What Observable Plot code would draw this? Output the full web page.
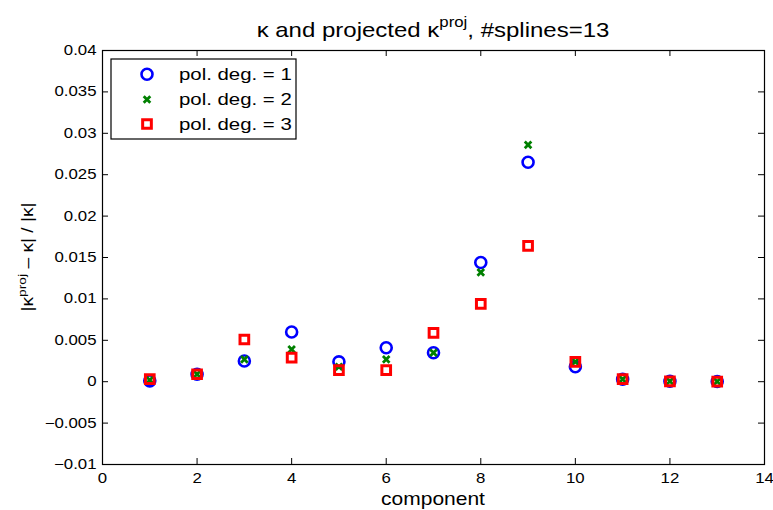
<!DOCTYPE html>
<html><head><meta charset="utf-8">
<script src="https://cdn.jsdelivr.net/npm/d3@7"></script>
<script src="https://cdn.jsdelivr.net/npm/@observablehq/plot@0.6"></script>
<style>html,body{margin:0;padding:0;background:#fff;}</style>
</head><body><div id="chart"></div>
<script>
const components = [1, 2, 3, 4, 5, 6, 7, 8, 9, 10, 11, 12, 13];
const deg1 = [0.0001, 0.0009, 0.0025, 0.0060, 0.0024, 0.0041, 0.0035, 0.0144, 0.0265, 0.0018, 0.0003, 0.00005, 0.00002];
const deg2 = [0.0002, 0.0009, 0.0027, 0.0039, 0.0018, 0.0027, 0.0035, 0.0132, 0.0286, 0.0024, 0.0003, 0.00005, 0.00002];
const deg3 = [0.0003, 0.0009, 0.0051, 0.0029, 0.0014, 0.0014, 0.0059, 0.0094, 0.0164, 0.0024, 0.0003, 0.00005, 0.00002];
const seriesNames = ["pol. deg. = 1", "pol. deg. = 2", "pol. deg. = 3"];
const xTicks = [0, 2, 4, 6, 8, 10, 12, 14];
const yTicks = [-0.01, -0.005, 0, 0.005, 0.01, 0.015, 0.02, 0.025, 0.03, 0.035, 0.04];
const yTickLabels = ["\u22120.01", "\u22120.005", "0", "0.005", "0.01", "0.015", "0.02", "0.025", "0.03", "0.035", "0.04"];
const xDomain = [0, 14];
const yDomain = [-0.01, 0.04];
const titleMain = "\u03BA and projected \u03BA";
const titleSup = "proj";
const titleRest = ", #splines=13";
const xLabel = "component";

const W = 773, H = 510, mt = 50, mr = 9, mb = 46, ml = 102;
const pw = W - ml - mr, ph = H - mt - mb;
const FONT = "'Liberation Sans', Arial, Helvetica, sans-serif";
const S = 1.2;
const tickLen = 6;

const styles = [
  {symbol: "circle", stroke: "#0000ff", r: 5.5, strokeWidth: 2.6},
  {symbol: "times", stroke: "#008000", r: 3.1, strokeWidth: 2.8},
  {symbol: "square", stroke: "#ff0000", r: 4.9, strokeWidth: 3}
];
const series = [deg1, deg2, deg3];
const rows = arr => components.map((c, i) => ({c, v: arr[i]}));

const plot = Plot.plot({
  width: W, height: H,
  marginTop: mt, marginRight: mr, marginBottom: mb, marginLeft: ml,
  style: {fontFamily: FONT, fontSize: "14px", color: "black", background: "white"},
  x: {domain: xDomain},
  y: {domain: yDomain},
  marks: [
    Plot.ruleX(xTicks, {x: d => d, insetTop: ph - tickLen, stroke: "black"}),
    Plot.ruleX(xTicks, {x: d => d, insetBottom: ph - tickLen, stroke: "black"}),
    Plot.ruleY(yTicks, {y: d => d, insetRight: pw - tickLen, stroke: "black"}),
    Plot.ruleY(yTicks, {y: d => d, insetLeft: pw - tickLen, stroke: "black"}),
    Plot.frame({stroke: "black", strokeWidth: 1.2}),
    Plot.axisX(xTicks, {tickSize: 0, tickPadding: 9, label: null, tickFormat: d => String(d)}),
    Plot.axisY(yTicks, {tickSize: 0, tickPadding: 6, label: null, tickFormat: d => yTickLabels[yTicks.indexOf(d)]}),
    ...series.map((s, k) => Plot.dot(rows(s), {x: "c", y: "v", fill: "none", ...styles[k]}))
  ]
});

document.getElementById("chart").appendChild(plot);
const svg = d3.select(plot);

function stretch(node) {
  const t = node.getAttribute("transform") || "";
  const xa = parseFloat(node.getAttribute("x"));
  const x = (isFinite(xa) && !/em/.test(node.getAttribute("x") || "")) ? xa : 0;
  node.setAttribute("transform", `${t} translate(${x},0) scale(${S},1) translate(${-x},0)`.trim());
}
svg.selectAll("text").each(function() { stretch(this); });

// title
const cx = ml + pw / 2;
const title = svg.append("text")
  .attr("x", cx).attr("y", 37)
  .attr("text-anchor", "middle")
  .attr("font-family", FONT).attr("font-size", 20).attr("fill", "black");
title.append("tspan").text(titleMain);
title.append("tspan").attr("dy", -10).attr("font-size", 14).text(titleSup);
title.append("tspan").attr("dy", 10).text(titleRest);
stretch(title.node());

// x label
const xl = svg.append("text")
  .attr("x", cx).attr("y", 505)
  .attr("text-anchor", "middle")
  .attr("font-family", FONT).attr("font-size", 17.5).attr("fill", "black")
  .text(xLabel);
stretch(xl.node());

// y label
const yl = svg.append("text")
  .attr("transform", `translate(33,${mt + ph / 2}) rotate(-90) scale(${S},1)`)
  .attr("text-anchor", "middle")
  .attr("font-family", FONT).attr("font-size", 16).attr("fill", "black");
yl.append("tspan").text("|\u03BA");
yl.append("tspan").attr("dy", -7).attr("font-size", 11.5).text("proj");
yl.append("tspan").attr("dy", 7).text(" \u2013 \u03BA| / |\u03BA|");

// legend
const lg = svg.append("g");
lg.append("rect").attr("x", 111).attr("y", 59).attr("width", 185).attr("height", 80)
  .attr("fill", "white").attr("stroke", "black").attr("stroke-width", 1.2);
const rowY = [74.3, 99.5, 124];
const symMap = {circle: d3.symbolCircle, times: d3.symbolTimes, square: d3.symbolSquare};
styles.forEach((st, k) => {
  lg.append("path")
    .attr("transform", `translate(147,${rowY[k]})`)
    .attr("d", d3.symbol(symMap[st.symbol], Math.PI * st.r * st.r)())
    .attr("fill", "none").attr("stroke", st.stroke).attr("stroke-width", st.strokeWidth);
  const t = lg.append("text")
    .attr("x", 179).attr("y", rowY[k] + 6)
    .attr("text-anchor", "start")
    .attr("font-family", FONT).attr("font-size", 17).attr("fill", "black")
    .text(seriesNames[k]);
  stretch(t.node());
});
</script>
</body></html>
